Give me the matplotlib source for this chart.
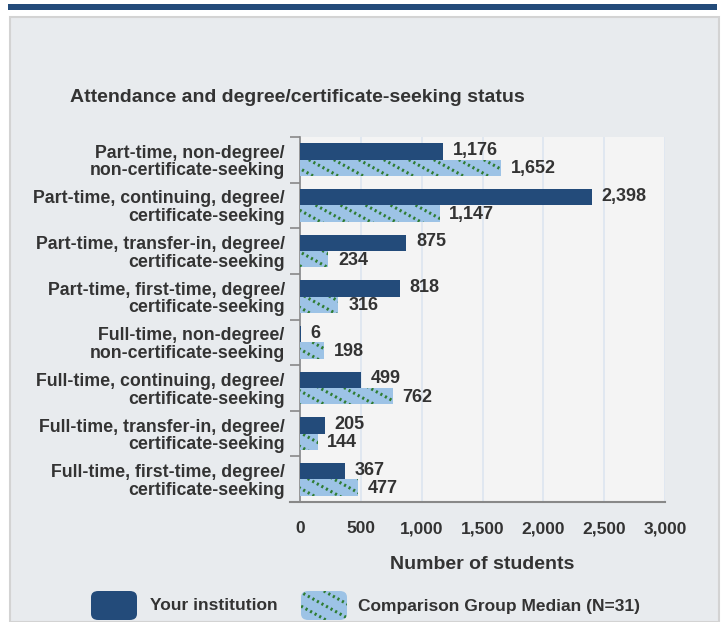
import matplotlib
matplotlib.use("Agg")
import matplotlib.pyplot as plt
from matplotlib.patches import FancyBboxPatch, Rectangle
from matplotlib.collections import LineCollection
import numpy as np

categories = [
    "Part-time, non-degree/\nnon-certificate-seeking",
    "Part-time, continuing, degree/\ncertificate-seeking",
    "Part-time, transfer-in, degree/\ncertificate-seeking",
    "Part-time, first-time, degree/\ncertificate-seeking",
    "Full-time, non-degree/\nnon-certificate-seeking",
    "Full-time, continuing, degree/\ncertificate-seeking",
    "Full-time, transfer-in, degree/\ncertificate-seeking",
    "Full-time, first-time, degree/\ncertificate-seeking",
]
your_institution = [1176, 2398, 875, 818, 6, 499, 205, 367]
comparison_median = [1652, 1147, 234, 316, 198, 762, 144, 477]
x_ticks = [0, 500, 1000, 1500, 2000, 2500, 3000]
series_names = ["Your institution", "Comparison Group Median (N=31)"]
title = "Attendance and degree/certificate-seeking status"
x_label = "Number of students"

plt.rcParams['font.family'] = ['Liberation Sans', 'DejaVu Sans']

DARK = '#234b7a'
LIGHT = '#9dc3e6'
GREEN = '#2f7d32'
TXT = '#333333'
W, H = 727, 622
fig = plt.figure(figsize=(W / 100, H / 100), dpi=100)
fig.patch.set_facecolor('white')

# top band and panel
fig.patches.append(Rectangle((8 / W, 1 - 10 / H), 709 / W, 6 / H, transform=fig.transFigure,
                             facecolor=DARK, edgecolor='none', zorder=-10))
fig.patches.append(Rectangle((10 / W, 0), 709 / W, 1 - 17 / H, transform=fig.transFigure,
                             facecolor='#e8ebee', edgecolor='#d3d3d3', linewidth=1.5, zorder=-10))

AX_L, AX_B, AX_W, AX_H = 300, 120, 365, 365
ax = fig.add_axes([AX_L / W, AX_B / H, AX_W / W, AX_H / H])
ax.set_facecolor('#f4f4f4')

# hatch pattern geometry in pixels: line every 25 px, falling 15 px per 27 px
SP_PX, DX_PX, DY_PX = 25.0, 27.0, 15.0


def hatch_segments(x0, x1, y0, y1):
    """Diagonal pattern lines (pixel space) covering a box."""
    segs = []
    span = (y1 - y0) * DX_PX / DY_PX
    for c in np.arange(x0 - span - SP_PX, x1 + SP_PX, SP_PX):
        segs.append([(c, y1), (c + span, y0)])
    return segs


def add_dotted_hatch(container, patch, box_px, zorder):
    x0, x1, y0, y1 = box_px
    segs = [[(px / W, py / H) for px, py in s] for s in hatch_segments(x0, x1, y0, y1)]
    lc = LineCollection(segs, colors=GREEN, linewidths=2.2, linestyles=[(0, (0.7, 1.0))],
                        transform=fig.transFigure, zorder=zorder)
    container.add_artist(lc)
    lc.set_clip_path(patch)
    return lc


y = np.arange(len(categories))
h = 0.36
ax.barh(y - 0.18, your_institution, height=h, color=DARK, edgecolor='none', zorder=3)
light_bars = ax.barh(y + 0.18, comparison_median, height=h, color=LIGHT, edgecolor='none', zorder=3)

for yi, v in zip(y, your_institution):
    ax.annotate(f"{v:,}", (v, yi - 0.2), xytext=(7, 0), textcoords='offset points',
                va='center', ha='left', fontsize=13, fontweight='bold', color=TXT, zorder=4)
for yi, v in zip(y, comparison_median):
    ax.annotate(f"{v:,}", (v, yi + 0.2), xytext=(7, 0), textcoords='offset points',
                va='center', ha='left', fontsize=13, fontweight='bold', color=TXT, zorder=4)

ax.set_xlim(0, 3000)
ax.set_ylim(len(categories) - 0.5, -0.5)
ax.set_xticks(x_ticks)
ax.set_xticklabels([f"{t:,}" for t in x_ticks], fontsize=12.5, fontweight='bold', color=TXT)
ax.tick_params(axis='x', length=0, pad=14)
ax.set_yticks(y)
ax.set_yticklabels(categories, fontsize=12.8, fontweight='bold', color=TXT, linespacing=1.05)
ax.tick_params(axis='y', which='major', length=0, pad=11)
ax.set_yticks(np.arange(len(categories) + 1) - 0.5, minor=True)
ax.tick_params(axis='y', which='minor', length=7, color='#888888', width=1.2)
ax.grid(axis='x', color='#dde5f0', linewidth=1.2, zorder=0)
ax.set_axisbelow(True)
for s in ['top', 'right']:
    ax.spines[s].set_visible(False)
ax.spines['left'].set_color('#888888')
ax.spines['left'].set_linewidth(1.2)
ax.spines['bottom'].set_color('#888888')
ax.spines['bottom'].set_linewidth(1.5)
ax.spines['bottom'].set_bounds(-80, 3000)
ax.set_xlabel(x_label, fontsize=14, fontweight='bold', color=TXT, labelpad=14)

# hatch over comparison bars, pattern anchored in pixel space of the axes
for bar in light_bars:
    add_dotted_hatch(ax, bar, (AX_L, AX_L + AX_W, AX_B, AX_B + AX_H), 3.5)

fig.text(70 / W, 1 - 97 / H, title, fontsize=14, fontweight='bold', color=TXT, va='center')

# legend
fig.patches.append(FancyBboxPatch((91 / W, 2 / H), 46 / W, 29 / H, transform=fig.transFigure,
                                  boxstyle='round,pad=0,rounding_size=0.01',
                                  facecolor=DARK, edgecolor='none'))
leg2 = FancyBboxPatch((301 / W, 2 / H), 46 / W, 29 / H, transform=fig.transFigure,
                      boxstyle='round,pad=0,rounding_size=0.01',
                      facecolor=LIGHT, edgecolor='none')
fig.patches.append(leg2)
add_dotted_hatch(fig, leg2, (301, 347, 2, 31), 2)
fig.text(150 / W, 16 / H, series_names[0], fontsize=12.5, fontweight='bold', color=TXT, va='center')
fig.text(358 / W, 16 / H, series_names[1], fontsize=12.5, fontweight='bold', color=TXT, va='center')

fig.savefig('out.png', dpi=100, facecolor=fig.get_facecolor())
